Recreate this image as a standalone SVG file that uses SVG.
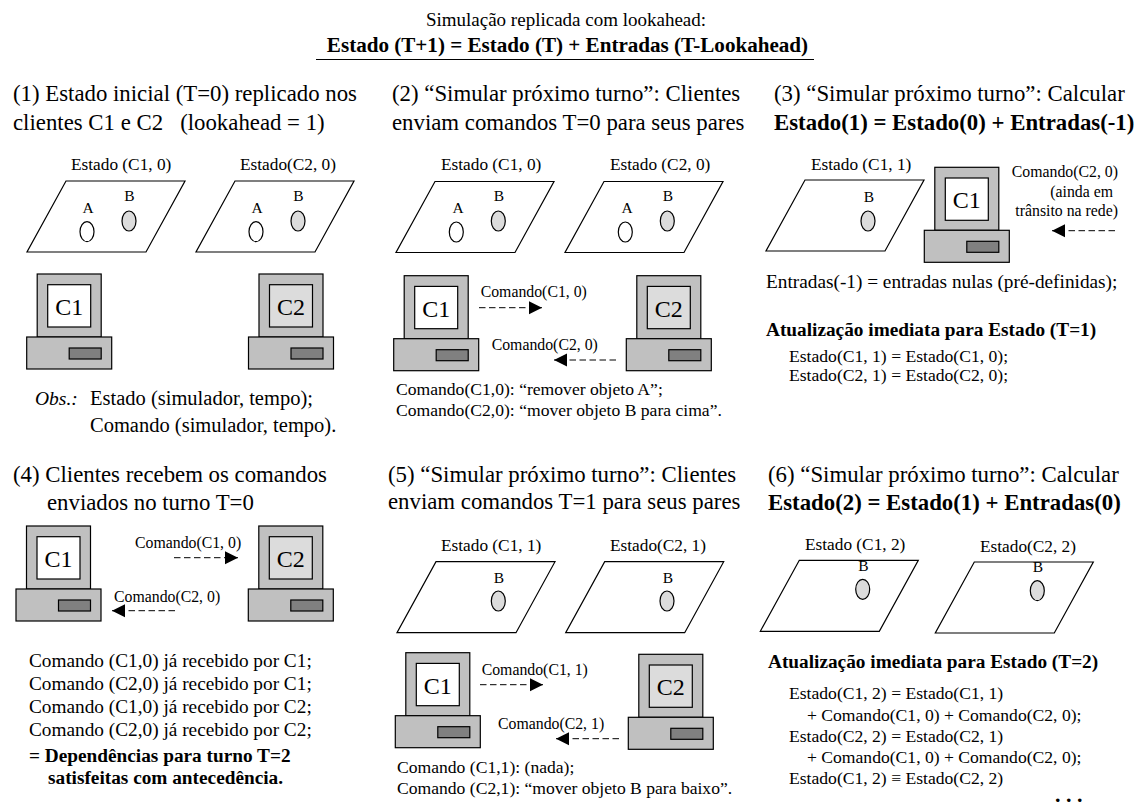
<svg xmlns="http://www.w3.org/2000/svg" width="1136" height="807" viewBox="0 0 1136 807">
<style>
text{font-family:"Liberation Serif","Times New Roman",serif;fill:#000}
.h{font-size:22.8px}.hb{font-size:22.8px;font-weight:bold}
.t{font-size:19.3px}.tb{font-size:19.3px;font-weight:bold}
.n{font-size:17.6px}
.s{font-size:17.3px}.c{font-size:15.8px}
.ab{font-size:15.5px;text-anchor:middle}
.m{text-anchor:middle}
.e{text-anchor:end}
.lbl{font-size:24px;text-anchor:middle}
.plane{fill:#fff;stroke:#000;stroke-width:1.2}
.gray{fill:#c0c0c0;stroke:#000;stroke-width:1.2}
.slot{fill:#808080;stroke:#000;stroke-width:1.2}
.eA{fill:#fff;stroke:#000;stroke-width:1.2}
.eB{fill:#dcdcdc;stroke:#000;stroke-width:1.2}
.s1{fill:#fff;stroke:#000;stroke-width:1.2}
.s2{fill:#dcdcdc;stroke:#000;stroke-width:1.2}
.arr{fill:none;stroke:#000;stroke-width:1;stroke-dasharray:6.5 3.5;marker-end:url(#head)}
</style>
<defs>
<marker id="head" markerUnits="userSpaceOnUse" markerWidth="14" markerHeight="14" refX="13" refY="7" orient="auto"><path d="M0 0.5L13 7L0 13.5z" fill="#000"/></marker>
<path id="plane72" class="plane" d="M0 0L119 0L158 -71L39 -71z"/>
<g id="pc"><rect class="gray" x="10.5" y="0" width="64" height="63"/><rect class="gray" x="0" y="63" width="85" height="32"/><rect class="slot" x="42.5" y="74" width="32" height="11"/></g>
</defs>
<g id="title">
<text x="566" y="26" class="m" style="font-size:19px">Simulação replicada com lookahead:</text>
<text x="567.5" y="52" class="m" style="font-size:21.1px;font-weight:bold">Estado (T+1) = Estado (T) + Entradas (T-Lookahead)</text>
<line x1="316" y1="59.5" x2="814" y2="59.5" stroke="#000" stroke-width="1.2"/>
</g>
<g id="connectors">
<line class="arr" x1="479" y1="307.7" x2="542" y2="307.7"/>
<line class="arr" x1="616" y1="360" x2="554" y2="360"/>
<line class="arr" x1="1115" y1="230.7" x2="1052" y2="230.7"/>
<line class="arr" x1="174" y1="557.7" x2="238" y2="557.7"/>
<line class="arr" x1="175" y1="610.7" x2="112" y2="610.7"/>
<line class="arr" x1="480" y1="684.7" x2="543" y2="684.7"/>
<line class="arr" x1="619" y1="738.7" x2="556" y2="738.7"/>
</g>
<g id="panel1">
<text x="13" y="101" class="h">(1) Estado inicial (T=0) replicado nos</text>
<text x="13" y="130" class="h" xml:space="preserve">clientes C1 e C2   (lookahead = 1)</text>
<g id="p1-state-c1"><use href="#plane72" x="27" y="252"/><text x="71" y="170" class="s">Estado (C1, 0)</text><ellipse class="eA" cx="87" cy="231.7" rx="7" ry="10"/><ellipse class="eB" cx="129" cy="221" rx="7" ry="10"/><text x="88" y="212.7" class="ab">A</text><text x="129.5" y="201" class="ab">B</text></g>
<g id="p1-state-c2"><use href="#plane72" x="196" y="252"/><text x="240" y="170" class="s">Estado(C2, 0)</text><ellipse class="eA" cx="256" cy="231.7" rx="7" ry="10"/><ellipse class="eB" cx="298" cy="221" rx="7" ry="10"/><text x="257" y="212.7" class="ab">A</text><text x="298.5" y="201" class="ab">B</text></g>
<g id="p1-c1" transform="translate(26.7 274)"><use href="#pc"/><rect class="s1" x="21" y="10.7" width="43" height="42.3"/><text x="42.5" y="41" class="lbl">C1</text></g>
<g id="p1-c2" transform="translate(248.5 274)"><use href="#pc"/><rect class="s2" x="21" y="10.7" width="43" height="42.3"/><text x="42.5" y="41" class="lbl">C2</text></g>
<text x="35" y="405" style="font-style:italic;font-size:19.5px">Obs.:</text>
<text x="90" y="405" style="font-size:20.5px">Estado (simulador, tempo);</text>
<text x="90" y="431.7" style="font-size:20.5px">Comando (simulador, tempo).</text>
</g>
<g id="panel2">
<text x="392" y="101" class="h">(2) “Simular próximo turno”: Clientes</text>
<text x="392" y="130" class="h">enviam comandos T=0 para seus pares</text>
<g id="p2-state-c1"><use href="#plane72" x="396" y="252.5"/><text x="441" y="170" class="s">Estado (C1, 0)</text><ellipse class="eA" cx="456.3" cy="232" rx="7" ry="10"/><ellipse class="eB" cx="498.3" cy="221" rx="7" ry="10"/><text x="458" y="212.7" class="ab">A</text><text x="499" y="201" class="ab">B</text></g>
<g id="p2-state-c2"><use href="#plane72" x="565" y="252.5"/><text x="610" y="170" class="s">Estado (C2, 0)</text><ellipse class="eA" cx="625.3" cy="232" rx="7" ry="10"/><ellipse class="eB" cx="667.3" cy="221" rx="7" ry="10"/><text x="627" y="212.7" class="ab">A</text><text x="668" y="201" class="ab">B</text></g>
<g id="p2-c1" transform="translate(393.7 275.7)"><use href="#pc"/><rect class="s1" x="21" y="10.7" width="43" height="42.3"/><text x="42.5" y="41" class="lbl">C1</text></g>
<g id="p2-c2" transform="translate(626.3 275.7)"><use href="#pc"/><rect class="s2" x="21" y="10.7" width="43" height="42.3"/><text x="42.5" y="41" class="lbl">C2</text></g>
<text x="480.7" y="296.7" class="c">Comando(C1, 0)</text>
<text x="491.7" y="350" class="c">Comando(C2, 0)</text>
<text x="396" y="395" class="n">Comando(C1,0): “remover objeto A”;</text>
<text x="396" y="416" class="n">Comando(C2,0): “mover objeto B para cima”.</text>
</g>
<g id="panel3">
<text x="774" y="101" class="h">(3) “Simular próximo turno”: Calcular</text>
<text x="774" y="130" class="hb">Estado(1) = Estado(0) + Entradas(-1)</text>
<g id="p3-state-c1"><use href="#plane72" x="766" y="251"/><text x="811" y="170" class="s">Estado (C1, 1)</text><ellipse class="eB" cx="868" cy="221" rx="7" ry="10"/><text x="869" y="201.7" class="ab">B</text></g>
<g id="p3-c1" transform="translate(924.3 167.3)"><use href="#pc"/><rect class="s1" x="21" y="10.7" width="43" height="42.3"/><text x="42.5" y="41" class="lbl">C1</text></g>
<text x="1118" y="177" class="c e">Comando(C2, 0)</text>
<text x="1113" y="196.7" class="c e">(ainda em</text>
<text x="1118" y="216" class="c e">trânsito na rede)</text>
<text x="766" y="288" class="t">Entradas(-1) = entradas nulas (pré-definidas);</text>
<text x="766" y="335.7" class="tb">Atualização imediata para Estado (T=1)</text>
<text x="789" y="361.7" class="n">Estado(C1, 1) = Estado(C1, 0);</text>
<text x="789" y="381" class="n">Estado(C2, 1) = Estado(C2, 0);</text>
</g>
<g id="panel4">
<text x="13" y="481.7" class="h">(4) Clientes recebem os comandos</text>
<text x="47" y="510" class="h">enviados no turno T=0</text>
<g id="p4-c1" transform="translate(16 526)"><use href="#pc"/><rect class="s1" x="21" y="10.7" width="43" height="42.3"/><text x="42.5" y="41" class="lbl">C1</text></g>
<g id="p4-c2" transform="translate(248.3 526)"><use href="#pc"/><rect class="s2" x="21" y="10.7" width="43" height="42.3"/><text x="42.5" y="41" class="lbl">C2</text></g>
<text x="135" y="548" class="c">Comando(C1, 0)</text>
<text x="114" y="601.7" class="c">Comando(C2, 0)</text>
<text x="29" y="667" class="t">Comando (C1,0) já recebido por C1;</text>
<text x="29" y="690" class="t">Comando (C2,0) já recebido por C1;</text>
<text x="29" y="713" class="t">Comando (C1,0) já recebido por C2;</text>
<text x="29" y="736" class="t">Comando (C2,0) já recebido por C2;</text>
<text x="29" y="761.7" class="tb">= Dependências para turno T=2</text>
<text x="48" y="784" class="tb">satisfeitas com antecedência.</text>
</g>
<g id="panel5">
<text x="388" y="481.7" class="h">(5) “Simular próximo turno”: Clientes</text>
<text x="388" y="509" class="h">enviam comandos T=1 para seus pares</text>
<g id="p5-state-c1"><use href="#plane72" x="397" y="632.7"/><text x="441" y="551" class="s">Estado (C1, 1)</text><ellipse class="eB" cx="498.3" cy="601" rx="7" ry="10"/><text x="499" y="582.7" class="ab">B</text></g>
<g id="p5-state-c2"><use href="#plane72" x="565.7" y="632.7"/><text x="610" y="551" class="s">Estado(C2, 1)</text><ellipse class="eB" cx="667" cy="601" rx="7" ry="10"/><text x="668" y="582.7" class="ab">B</text></g>
<g id="p5-c1" transform="translate(395.3 652.7)"><use href="#pc"/><rect class="s1" x="21" y="10.7" width="43" height="42.3"/><text x="42.5" y="41" class="lbl">C1</text></g>
<g id="p5-c2" transform="translate(628.3 654.3)"><use href="#pc"/><rect class="s2" x="21" y="10.7" width="43" height="42.3"/><text x="42.5" y="41" class="lbl">C2</text></g>
<text x="481.7" y="675" class="c">Comando(C1, 1)</text>
<text x="498" y="729" class="c">Comando(C2, 1)</text>
<text x="397" y="772.7" class="n">Comando (C1,1): (nada);</text>
<text x="397" y="794" class="n">Comando (C2,1): “mover objeto B para baixo”.</text>
</g>
<g id="panel6">
<text x="768" y="482" class="h">(6) “Simular próximo turno”: Calcular</text>
<text x="768" y="510" class="hb">Estado(2) = Estado(1) + Entradas(0)</text>
<g id="p6-state-c1"><use href="#plane72" x="760.3" y="631.3"/><text x="805" y="550" class="s">Estado (C1, 2)</text><ellipse class="eB" cx="862.7" cy="589.3" rx="7" ry="10"/><text x="863.3" y="570.7" class="ab">B</text></g>
<g id="p6-state-c2"><use href="#plane72" x="935.3" y="633"/><text x="980" y="552" class="s">Estado(C2, 2)</text><ellipse class="eB" cx="1037.3" cy="590.7" rx="7" ry="10"/><text x="1038" y="572" class="ab">B</text></g>
<text x="768" y="668.3" class="tb">Atualização imediata para Estado (T=2)</text>
<text x="789" y="699" class="n">Estado(C1, 2) = Estado(C1, 1)</text>
<text x="807" y="720.7" class="n">+ Comando(C1, 0) + Comando(C2, 0);</text>
<text x="789" y="741.7" class="n">Estado(C2, 2) = Estado(C2, 1)</text>
<text x="807" y="762.7" class="n">+ Comando(C1, 0) + Comando(C2, 0);</text>
<text x="789" y="784" class="n">Estado(C1, 2) ≡ Estado(C2, 2)</text>
<text x="1055" y="802" style="font-size:22px;font-weight:bold;letter-spacing:5.5px">...</text>
</g>
</svg>
